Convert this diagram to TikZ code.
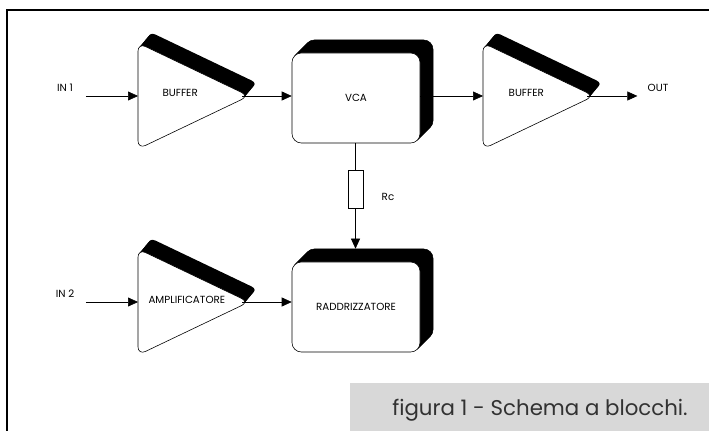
\documentclass[tikz,border=0pt]{standalone}
\usepackage{fontspec}
\setmainfont{Poppins}
\usepackage{xcolor}
\usepackage{tikz}
\usetikzlibrary{arrows.meta,positioning,calc,backgrounds}

\definecolor{capgrey}{RGB}{216,216,216}
\definecolor{captext}{RGB}{50,50,50}

\begin{document}
\begin{tikzpicture}[
    x=0.03cm, y=-0.03cm,
    block/.style={draw, line width=0.5pt, rounded corners=8pt, fill=white,
                  minimum width=3.84cm, minimum height=2.7cm, inner sep=0pt,
                  font=\fontsize{8.8}{10}\selectfont},
    ampli/.style={draw, line width=0.5pt, rounded corners=7pt, fill=white},
    resbox/.style={draw, line width=0.5pt, fill=white, minimum width=0.45cm,
                   minimum height=1.14cm, inner sep=0pt},
    arrow/.style={-{Triangle[length=0.3cm, width=0.27cm]}, line width=0.5pt},
    lbl/.style={font=\fontsize{8.8}{10}\selectfont, inner sep=1pt}
]
\useasboundingbox (0,0) rectangle (709,431);

%% Frame
\draw[line width=1.3pt] (7,431) -- (7,10) -- (709,10);

%% Amplifier triangles: base middle (..in) and tip (..out)
\coordinate (buf1in) at (138,96);
\coordinate (buf1out) at (249,96);
\coordinate (buf2in) at (483,96);
\coordinate (buf2out) at (594,96);
\coordinate (ampin) at (138,302);
\coordinate (ampout) at (249,302);

%% Blocks
\node[block] (vca) at (356,98) {VCA};
\node[block] (rad) at (356,307) {RADDRIZZATORE};

%% Extruded shadows
\begin{scope}[on background layer]
\foreach \s in {1,...,13} {
  \node[block, fill=black] at ($(vca)+(\s,-\s)$) {};
  \node[block, fill=black] at ($(rad)+(\s,-\s)$) {};
}
\foreach \t in {buf1,buf2,amp} {
  \foreach \s in {1,...,12} {
    \fill[rounded corners=7pt] ($(\t in)+(0.83*\s,-53-\s)$) -- ($(\t out)+(0.83*\s,-\s)$)
        -- ($(\t in)+(0.83*\s,53-\s)$) -- cycle;
  }
}
\end{scope}

%% Triangles
\foreach \t in {buf1,buf2,amp} {
  \draw[ampli] ($(\t in)+(0,-53)$) -- (\t out) -- ($(\t in)+(0,53)$) -- cycle;
}
\node[lbl] (buf1txt) at ($(buf1in)!0.38!(buf1out)+(0,-3)$) {BUFFER};
\node[lbl] (buf2txt) at ($(buf2in)!0.39!(buf2out)+(0,-3)$) {BUFFER};
\node[lbl] (amptxt) at ($(ampin)!0.44!(ampout)+(0,-2)$) {AMPLIFICATORE};

%% Control resistor
\node[resbox] (rc) at (355.5,189) {};
\node[lbl] (rclbl) at (388,197) {Rc};

%% Inputs and output
\coordinate[left=1.56cm of buf1in] (in1s);
\coordinate[left=1.56cm of ampin] (in2s);
\coordinate[right=1.3cm of buf2out] (outs);
\node[lbl] (in1) at (65,88) {IN 1};
\node[lbl] (in2) at (65,294) {IN 2};
\node[lbl] (out) at (658,88) {OUT};

%% Arrows
\draw[arrow] (in1s) -- (buf1in);
\draw[arrow] ([xshift=-0.2cm]buf1out) -- (buf1out -| vca.west);
\draw[arrow] (vca.east |- buf2in) -- (buf2in);
\draw[arrow] ([xshift=-0.2cm]buf2out) -- (outs);
\draw[arrow] (in2s) -- (ampin);
\draw[arrow] ([xshift=-0.2cm]ampout) -- (ampout -| rad.west);
\draw[line width=0.5pt] (vca.south -| rc) -- (rc.north);
\draw[arrow] (rc.south) -- ([yshift=0.39cm]rc.south |- rad.north);

%% Caption
\fill[capgrey] (350,383) rectangle (709,431);
\node[font=\fontsize{18.2}{22}\selectfont, color=captext] (cap) at (540,410) {figura 1 - Schema a blocchi.};

\end{tikzpicture}
\end{document}
